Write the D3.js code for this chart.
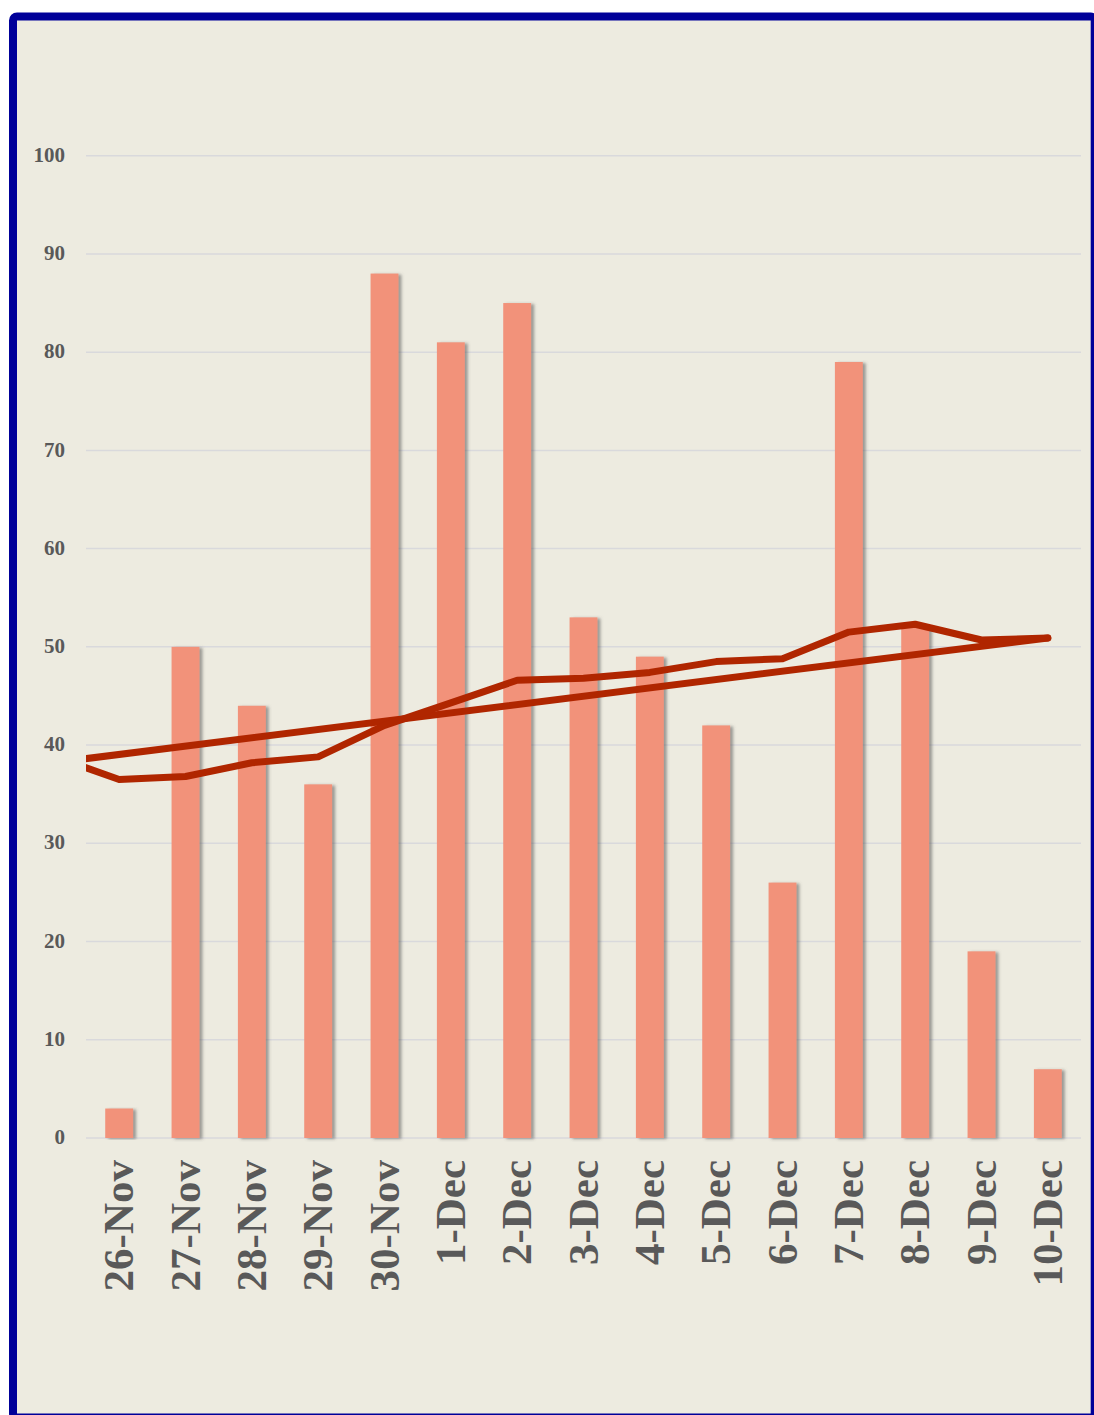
<!DOCTYPE html>
<html>
<head>
<meta charset="utf-8">
<script src="https://cdn.jsdelivr.net/npm/d3@7"></script>
<style>
  body { margin: 0; background: #ffffff; }
  svg { display: block; }
  .tick-label { font-family: "Liberation Serif", "DejaVu Serif", serif; font-weight: bold; fill: #595959; }
</style>
</head>
<body>
<svg id="chart"></svg>
<script>
const width = 1094;
const height = 1415;

// categories on the x axis
const days = ["26-Nov", "27-Nov", "28-Nov", "29-Nov", "30-Nov", "1-Dec", "2-Dec", "3-Dec",
  "4-Dec", "5-Dec", "6-Dec", "7-Dec", "8-Dec", "9-Dec", "10-Dec"];

// bar series
const counts = [3, 50, 44, 36, 88, 81, 85, 53, 49, 42, 26, 79, 52, 19, 7];

// smoothed line: first point belongs to the day before 26-Nov (it gets clipped at the plot edge)
const smoothIdx = [-1, 0, 1, 2, 3, 4, 5, 6, 7, 8, 9, 10, 11, 12, 13, 14];
const smoothVals = [38.9, 36.5, 36.8, 38.2, 38.8, 42.0, 44.3, 46.6, 46.8, 47.4, 48.5, 48.8, 51.5, 52.3, 50.7, 50.9];

// straight trend line, same index positions
const trendIdx = [-1, 14];
const trendVals = [38.2, 50.9];

const yTicks = [0, 10, 20, 30, 40, 50, 60, 70, 80, 90, 100];

const margin = { left: 86, right: 1081, top: 155.7, bottom: 1138 };

const svg = d3.select("#chart").attr("width", width).attr("height", height);

// frame
svg.append("rect")
  .attr("x", 13).attr("y", 16.5)
  .attr("width", 1081.7).attr("height", 1401)
  .attr("rx", 4)
  .attr("fill", "#EDEBE0")
  .attr("stroke", "#000099")
  .attr("stroke-width", 8);

const defs = svg.append("defs");
defs.append("clipPath").attr("id", "plotclip")
  .append("rect")
  .attr("x", margin.left).attr("y", margin.top - 20)
  .attr("width", margin.right - margin.left)
  .attr("height", margin.bottom - margin.top + 20);

const shadow = defs.append("filter").attr("id", "barshadow")
  .attr("x", "-30%").attr("y", "-5%").attr("width", "160%").attr("height", "110%");
shadow.append("feDropShadow")
  .attr("dx", 3).attr("dy", 1).attr("stdDeviation", 1.6)
  .attr("flood-color", "#555").attr("flood-opacity", 0.55);

const x = d3.scaleBand().domain(days).range([margin.left, margin.right]).paddingInner(0.58).paddingOuter(0.29);
const y = d3.scaleLinear().domain([0, 100]).range([margin.bottom, margin.top]);

// position of a category index (may be outside the domain)
const step = (margin.right - margin.left) / days.length;
const xi = d3.scaleLinear().domain([0, 1]).range([margin.left + step / 2, margin.left + step * 1.5]);

// gridlines
svg.append("g").selectAll("line").data(yTicks).join("line")
  .attr("x1", margin.left).attr("x2", margin.right)
  .attr("y1", d => y(d)).attr("y2", d => y(d))
  .attr("stroke", "#D9D9DC").attr("stroke-width", 1.5);

// y axis labels
const yAxis = d3.axisLeft(y).tickValues(yTicks).tickSize(0).tickPadding(0);
const yg = svg.append("g").attr("transform", "translate(65,0)").call(yAxis);
yg.select(".domain").remove();
yg.selectAll("text").attr("class", "tick-label").attr("font-size", 21).attr("dy", "0.27em");

// bars
svg.append("g").selectAll("rect").data(counts).join("rect")
  .attr("x", (d, i) => x(days[i]))
  .attr("y", d => y(d))
  .attr("width", x.bandwidth())
  .attr("height", d => y(0) - y(d))
  .attr("fill", "#F2927A")
  .attr("filter", "url(#barshadow)");

// x axis labels
const xAxis = d3.axisBottom(x).tickSize(0).tickPadding(0);
const xg = svg.append("g").attr("transform", `translate(0,${margin.bottom})`).call(xAxis);
xg.select(".domain").remove();
xg.selectAll("text")
  .attr("class", "tick-label")
  .attr("font-size", 43)
  .attr("text-anchor", "end")
  .attr("transform", "translate(0,22) rotate(-90)")
  .attr("x", 0).attr("y", 0)
  .attr("dy", "0.33em");

// lines
const lineG = svg.append("g").attr("clip-path", "url(#plotclip)");
const line = d3.line().x(d => xi(d[0])).y(d => y(d[1]));

lineG.append("path")
  .datum(trendIdx.map((d, i) => [d, trendVals[i]]))
  .attr("d", line)
  .attr("fill", "none").attr("stroke", "#B02600").attr("stroke-width", 7)
  .attr("stroke-linecap", "round");

lineG.append("path")
  .datum(smoothIdx.map((d, i) => [d, smoothVals[i]]))
  .attr("d", line)
  .attr("fill", "none").attr("stroke", "#B02600").attr("stroke-width", 7)
  .attr("stroke-linecap", "round").attr("stroke-linejoin", "round");
</script>
</body>
</html>
